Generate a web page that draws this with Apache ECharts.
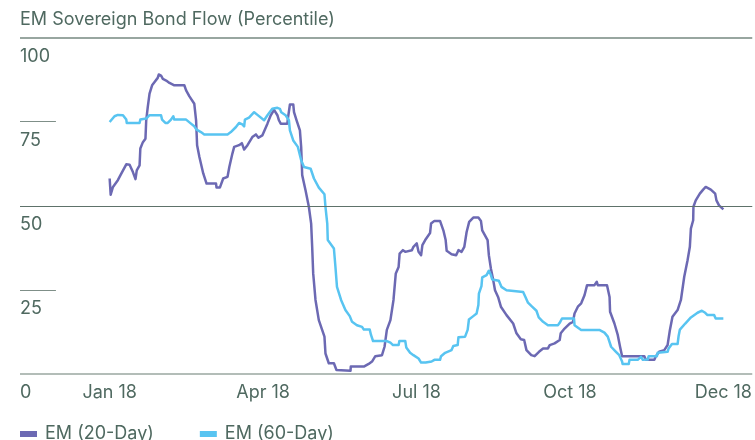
<!DOCTYPE html>
<html>
<head>
<meta charset="utf-8">
<script src="https://cdn.jsdelivr.net/npm/echarts@6/dist/echarts.min.js"></script>
<style>
  html, body { margin: 0; padding: 0; background: #ffffff; }
  #chart { width: 755px; height: 440px; }
</style>
</head>
<body>
<div id="chart"></div>
<script>
// Trading-day index (0 = start of January, 240 = December) and percentile readings.
const em20Days = [0,0.4,1.3,3.2,4.6,6.5,7.8,9.1,10.1,10.6,11.7,12.0,13.0,14.0,14.3,14.9,15.6,16.6,17.5,18.8,19.2,20.1,20.8,22.1,23.4,25.3,29.2,29.9,31.2,33.1,33.8,34.2,35.1,36.6,37.9,41.6,41.8,43.1,44.4,46.1,46.8,48.0,48.7,50.6,51.7,52.6,53.9,55.8,57.2,58.2,59.7,61.7,63.0,64.3,64.9,65.6,66.2,66.9,69.5,69.7,70.5,71.8,72.1,73.1,74.4,74.9,75.3,76.6,77.9,78.8,79.2,79.6,80.5,81.8,83.1,84.0,84.4,85.7,87.7,88.7,94.2,94.3,99.4,101.3,102.6,103.9,106.5,107.5,108.4,109.8,111.0,111.9,113.0,113.4,114.7,115.6,116.2,118.2,118.8,120.1,120.8,121.8,122.3,123.4,125.3,125.7,127.0,129.2,130.5,131.4,131.8,133.7,135.5,136.4,137.0,137.6,138.7,139.6,140.6,142.2,144.2,145.2,145.7,147.8,148.3,149.1,150.0,150.7,151.9,153.0,155.2,157.8,159.1,160.8,162.1,163.0,164.9,166.2,167.9,169.5,171.4,172.1,174.0,176.0,176.4,177.9,179.9,181.2,181.8,183.1,184.4,185.7,186.7,189.6,190.5,190.9,194.5,195.5,195.7,197.4,198.7,199.6,200.4,209.1,209.7,213.0,213.6,214.9,216.9,218.2,219.1,220.1,222.1,223.4,224.7,226.0,226.9,227.3,228.2,228.3,229.2,230.8,232.1,233.1,235.1,236.8,237.3,238.3,240];
const em20Values = [58.1,53.3,55.6,57.6,59.6,62.3,62.2,60,57.9,60.5,62,67,68.9,69.9,75.4,79.3,83.3,85.8,86.7,88,89,88.7,87.7,87.2,86.5,85.8,85.8,84.3,82.5,80.3,75.4,68,64.5,59.6,56.6,56.6,55.4,55.4,58.1,58.6,61.5,65.5,67.5,68,68.6,66.7,68,70.4,71.2,70.2,70.9,74.4,76.9,78.5,78.1,76.9,75.4,74.4,74.4,75.9,80.1,80.1,77.8,75.4,72.4,67.4,59.1,54.6,49.7,44.7,37.8,29.9,22,16,13.1,11.1,6.1,3.2,3.2,1.2,1,2.2,2.2,3,3.7,5.3,5.6,8.1,13.1,16,22,29.9,31.8,35.8,36.8,36.3,36.8,36.8,37.8,38.8,36.3,35.3,38.3,39.8,41.9,44.7,45.5,45.5,42.7,39.8,36.6,35.6,35.3,36.8,37.3,36.3,37.8,42.2,45.2,46.5,46.5,45.5,42.7,39.8,35.3,31.3,27.9,24.9,22.9,20,17.5,15,12.1,10.3,10.1,7.1,5.6,5.3,6.6,7.6,7.6,8.6,9.1,10.1,12.1,13.5,15,15.5,18,20,21,23.4,26.4,26.4,27.4,26.4,26.4,22.9,18.5,15,11.6,8.1,5.3,5.3,4.2,4.2,5.3,6.6,7.1,8.6,13.1,17,19,22,28.9,33.8,37.8,43.2,45.7,49.7,51.6,53.6,54.8,55.6,54.8,53.6,51.6,50.1,48.9];

const em60Days = [0,0.7,1.9,3.2,5.2,6.5,6.7,11.7,12.0,14.3,15.6,20.1,20.5,21.8,22.7,24.0,24.9,25.3,29.9,31.8,33.1,34.0,35.7,37.0,46.1,47.4,49.4,50.6,51.9,52.6,52.9,54.5,56.5,57.8,58.4,60.4,61.7,63.6,65.6,66.6,67.1,68.8,70.1,70.5,71.8,73.6,74.9,76.0,78.6,79.9,81.8,84.0,84.4,85.1,85.3,87.7,88.3,88.9,90.5,92.2,93.9,94.8,96.7,98.7,99.4,101.7,102.2,103.0,108.4,109.8,110.8,113.0,113.3,115.6,116.0,117.5,118.8,120.8,121.8,123.6,124.0,125.9,126.6,127.0,129.2,129.6,131.2,133.7,134.4,136.1,136.4,139.0,140.0,140.5,142.2,143.5,144.2,144.4,145.4,145.7,147.4,148.3,149.1,149.6,152.2,153.2,155.2,161.7,162.6,163.6,165.2,166.9,167.8,169.5,171.4,175.3,176.0,176.9,181.6,181.8,184.4,191.5,193.5,194.8,196.1,198.0,199.3,200.4,200.6,203.0,203.3,206.5,207.8,208.5,210.4,210.8,214.0,214.3,218.2,218.6,219.9,222.1,222.5,223.0,225.1,227.3,229.9,231.6,232.9,233.8,236.4,237.0,240];
const em60Values = [74.9,75.4,76.6,77,76.9,75.6,74.6,74.6,75.6,75.9,76.9,76.9,75.6,74.6,74.6,75.6,76.6,75.6,75.6,74.4,73.6,72.6,71.9,71.2,71.2,71.9,73.4,74.6,74.2,73.6,75.6,76.2,77.8,77,76.9,75.4,76.9,78.8,79.1,78.8,77.8,76.9,75.4,72.4,69.4,67.5,63.5,61.5,61,58.1,55.4,53.4,49.7,44.7,39.8,37.3,31.8,25.9,22,19,17.2,15.5,14.5,14,13.2,13.2,11.6,9.8,9.8,9.3,8.6,8.6,9.8,9.8,7.9,6.3,5.6,4.6,3.4,3.4,3.7,3.7,3.2,4.2,4.2,5.3,6.3,7.1,8.3,8.6,10.9,11.1,13.1,16.2,17.2,18,20.5,23.9,26.1,28.7,29.4,30.7,29.4,28.1,27.7,25.9,24.9,24.4,22.9,21.2,20,18.8,16.8,15.5,14.5,14.5,15.2,16.5,16.5,14.5,13.1,13.1,12.3,11.1,8.1,6.6,5.6,3.7,3,3,4.2,4.2,5.1,4.2,4.3,5.3,5.3,6.3,6.6,7.6,8.9,8.9,11.3,13.2,15,16.8,18.2,18.8,18.2,17.5,17.5,16.5,16.5];

const xTickDays = [0, 60, 120, 180, 240];
const xTickLabels = ['Jan 18', 'Apr 18', 'Jul 18', 'Oct 18', 'Dec 18'];
const seriesNames = ['EM (20-Day)', 'EM (60-Day)'];

// Axis extent: the plot area starts at the left margin, before the first reading.
const X_MIN = -35.06;
const X_MAX = 251.3;
const X_SHORT_RULE_END = -21.0;

const FONT = 'Inter, Roboto, "Noto Sans", sans-serif';
const FONT_SIZE = 18;
const TEXT = '#4f6960';
const PURPLE = '#6c69b3';
const BLUE = '#58c4f1';

const zip = (xs, ys) => xs.map((x, i) => [x, ys[i]]);

const chart = echarts.init(document.getElementById('chart'), null, { renderer: 'canvas' });

chart.setOption({
  animation: false,
  backgroundColor: '#ffffff',
  textStyle: { fontFamily: FONT },
  title: {
    text: 'EM Sovereign Bond Flow (Percentile)',
    left: 20,
    top: 11,
    padding: 0,
    textStyle: { fontFamily: FONT, fontSize: FONT_SIZE, fontWeight: 'normal', color: TEXT }
  },
  legend: {
    left: 20,
    top: 425,
    padding: 0,
    icon: 'rect',
    itemWidth: 17,
    itemHeight: 6,
    itemGap: 46,
    data: seriesNames,
    textStyle: { fontFamily: FONT, fontSize: FONT_SIZE, color: TEXT, padding: [0, 0, 0, 3] }
  },
  grid: { left: 20, right: 0, top: 37.5, bottom: 66, containLabel: false },
  xAxis: {
    type: 'value',
    min: X_MIN,
    max: X_MAX,
    axisLine: { show: false },
    axisTick: { show: false },
    splitLine: { show: false },
    axisLabel: {
      customValues: xTickDays,
      formatter: (v) => {
        const i = xTickDays.indexOf(v);
        return i >= 0 ? xTickLabels[i] : '';
      },
      margin: 10,
      fontFamily: FONT,
      fontSize: FONT_SIZE,
      color: TEXT
    }
  },
  yAxis: {
    type: 'value',
    min: 0,
    max: 100,
    interval: 25,
    axisLine: { show: false },
    axisTick: { show: false },
    splitLine: { show: false },
    axisLabel: {
      inside: true,
      margin: 0,
      showMinLabel: true,
      showMaxLabel: true,
      verticalAlign: 'top',
      padding: [10, 0, 0, 0],
      fontFamily: FONT,
      fontSize: FONT_SIZE,
      color: TEXT
    }
  },
  series: [
    {
      name: seriesNames[0],
      type: 'line',
      data: zip(em20Days, em20Values),
      symbol: 'none',
      color: PURPLE,
      lineStyle: { width: 2.5, color: PURPLE, join: 'round' },
      z: 3,
      markLine: {
        silent: true,
        symbol: 'none',
        label: { show: false },
        data: [
          { yAxis: 100, lineStyle: { color: '#98a6a0', width: 2, type: 'solid' } },
          { yAxis: 50, lineStyle: { color: '#5e726a', width: 1.2, type: 'solid' } },
          { yAxis: 0, lineStyle: { color: '#9aa7a1', width: 1.5, type: 'solid' } },
          [
            { coord: [X_MIN, 75], lineStyle: { color: '#7f8f88', width: 1, type: 'solid' } },
            { coord: [X_SHORT_RULE_END, 75] }
          ],
          [
            { coord: [X_MIN, 25], lineStyle: { color: '#7f8f88', width: 1, type: 'solid' } },
            { coord: [X_SHORT_RULE_END, 25] }
          ]
        ]
      }
    },
    {
      name: seriesNames[1],
      type: 'line',
      data: zip(em60Days, em60Values),
      symbol: 'none',
      color: BLUE,
      lineStyle: { width: 2.5, color: BLUE, join: 'round' },
      z: 4
    }
  ]
});
</script>
</body>
</html>
